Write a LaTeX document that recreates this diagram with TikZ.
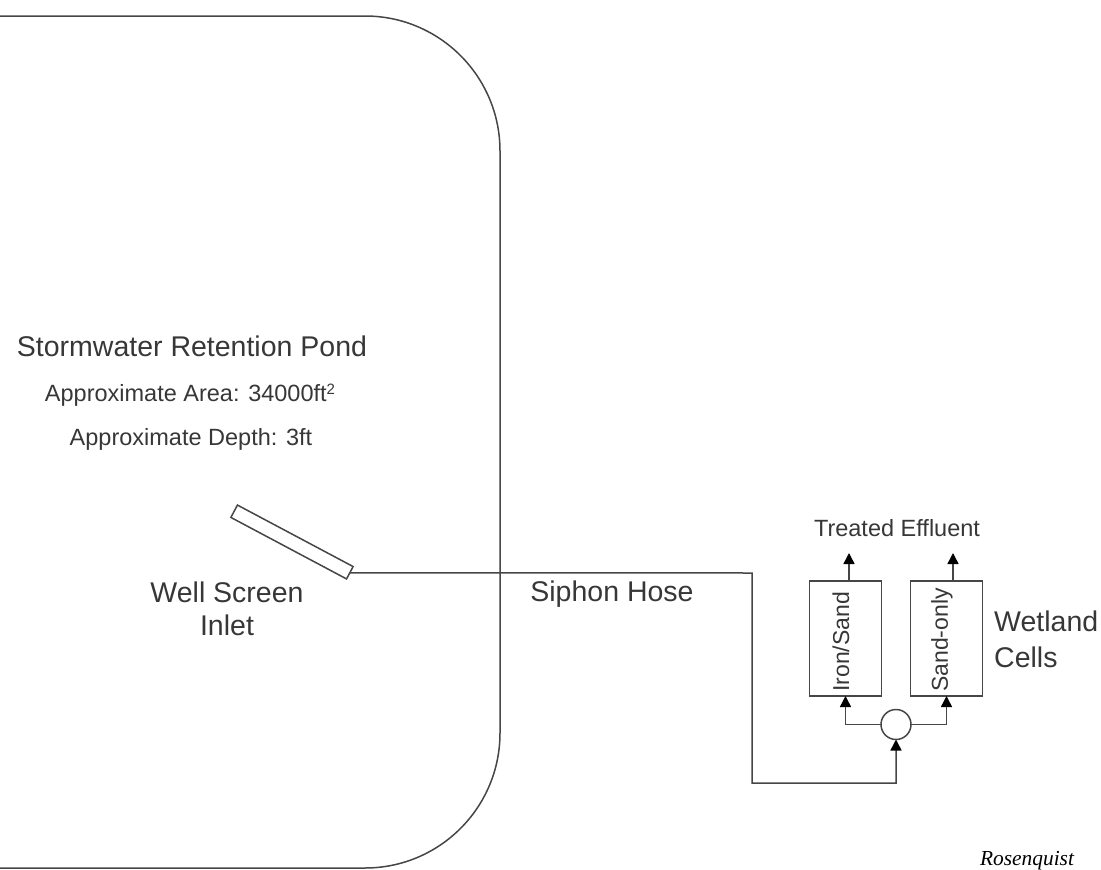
\documentclass[tikz,border=0pt]{standalone}
\usepackage{fontspec}
\setmainfont{Liberation Sans}
\newfontfamily\serifname{Liberation Serif}
\usepackage{xcolor}
\usetikzlibrary{positioning, arrows.meta, calc}
\definecolor{lineGray}{RGB}{70,70,70}
\definecolor{textGray}{RGB}{55,55,55}

\begin{document}
\begin{tikzpicture}[
    x=1pt, y=-1pt,
    line/.style={draw=lineGray, line width=1.5pt},
    arrow/.style={line, -{Triangle[length=11pt, width=11pt, color=black]}},
    cell/.style={rectangle, line, minimum width=72pt, minimum height=115pt, inner sep=0pt, outer sep=0pt},
    celltext/.style={font=\fontsize{23}{23}\selectfont, text=textGray, rotate=90, anchor=west, inner sep=0pt},
    biglabel/.style={font=\fontsize{28.5}{33}\selectfont, text=textGray, align=center, inner sep=0pt},
    smalllabel/.style={font=\fontsize{23.5}{28}\selectfont, text=textGray, align=center, inner sep=0pt}
]
\useasboundingbox (0,0) rectangle (1101,870);

% Pond
\draw[line, rounded corners=135pt] (0,16) -- (500,16) -- (500,868) -- (0,868);
\node[biglabel] (pond) at (192,346) {Stormwater Retention Pond};
\node[smalllabel] (area) at (190,395) {Approximate Area: 34000ft\raisebox{0.6ex}{\fontsize{15}{15}\selectfont 2}};
\node[smalllabel] (depth) at (191,439) {Approximate Depth: 3ft};

% Inlet
\node[rectangle, line, fill=white, minimum width=131pt, minimum height=14pt, inner sep=0pt, outer sep=0pt, rotate=-28] (screen) at (292,542) {};
\node[biglabel, font=\fontsize{28.5}{33.5}\selectfont] (inlet) at (227,609) {Well Screen\\Inlet};

% Cells
\node[cell] (iron) at (845.5,638.5) {};
\node[cell, right=29pt of iron] (sand) {};
\node[celltext] (irontext) at ($(iron.south)+(-4.5,-4)$) {Iron/Sand};
\node[celltext] (sandtext) at ($(sand.south)+(-4.5,-4)$) {Sand-only};
\node[circle, line, fill=white, minimum size=30pt, inner sep=0pt, outer sep=0pt] (split) at (896,724.5) {};
\node[biglabel, font=\fontsize{28.5}{36}\selectfont, align=left, anchor=west] (wetland) at (994,639) {Wetland\\Cells};
\node[smalllabel] (effluent) at (897,528) {Treated Effluent};
\node[biglabel, font=\serifname\itshape\fontsize{21.4}{24}\selectfont, text=black] (author) at (1027,861) {Rosenquist};
\node[biglabel] (hose) at (612,594) {Siphon Hose};

% Free ends
\coordinate (benda) at (752,573);
\coordinate (bendb) at (752,783);
\coordinate (ironout) at (849,553);
\coordinate (sandout) at (953,553);

% Arrows
\draw[arrow] (screen.east) -- (benda) -- (bendb) -| (split.south);
\draw[arrow] (split.west) -| (iron.south);
\draw[arrow] (split.east) -| (sand.south);
\draw[arrow] (ironout |- iron.north) -- (ironout);
\draw[arrow] (sandout |- sand.north) -- (sandout);
\end{tikzpicture}
\end{document}
